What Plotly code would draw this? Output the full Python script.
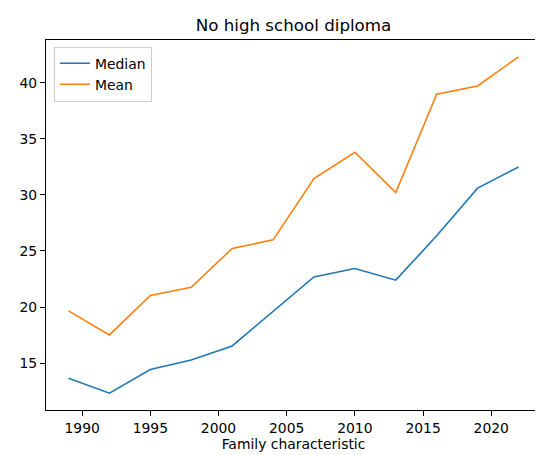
import plotly.graph_objects as go

years = [1989, 1992, 1995, 1998, 2001, 2004, 2007, 2010, 2013, 2016, 2019, 2022]
median = [13.66, 12.33, 14.44, 15.29, 16.54, 19.6, 22.69, 23.44, 22.40, 26.35, 30.6, 32.48]
mean = [19.66, 17.52, 21.03, 21.77, 25.22, 25.99, 31.46, 33.8, 30.21, 38.97, 39.7, 42.3]
x_ticks = [1990, 1995, 2000, 2005, 2010, 2015, 2020]
y_ticks = [15, 20, 25, 30, 35, 40]

fig = go.Figure()
fig.add_trace(go.Scatter(x=years, y=median, mode="lines", name="Median",
                         line=dict(color="#1f77b4", width=1.6)))
fig.add_trace(go.Scatter(x=years, y=mean, mode="lines", name="Mean",
                         line=dict(color="#ff7f0e", width=1.6)))

xspan = max(years) - min(years)
ymin = min(median + mean)
ymax = max(median + mean)
yspan = ymax - ymin

fig.update_layout(
    width=543, height=455,
    margin=dict(l=38, r=10, t=32, b=53, autoexpand=False),
    paper_bgcolor="white", plot_bgcolor="white",
    font=dict(family="DejaVu Sans", size=13.9, color="black"),
    title=dict(text="No high school diploma", x=0.5, xanchor="center",
               xref="paper", y=1 - 17 / 455, yanchor="middle", font=dict(size=16.7)),
    showlegend=True,
    legend=dict(x=0.016, y=0.982, xanchor="left", yanchor="top",
                bgcolor="rgba(255,255,255,0.8)", bordercolor="#cccccc", borderwidth=1,
                font=dict(size=13.9), tracegroupgap=0, itemwidth=30),
    xaxis=dict(range=[min(years) - 0.05 * xspan, max(years) + 0.05 * xspan],
               tickvals=x_ticks, ticks="outside", ticklen=5, tickcolor="black",
               showline=True, linecolor="black", linewidth=1, mirror=True,
               showgrid=False, zeroline=False, automargin=False,
               title=dict(text="Family characteristic", standoff=2, font=dict(size=13.9))),
    yaxis=dict(range=[ymin - 0.05 * yspan, ymax + 0.05 * yspan],
               tickvals=y_ticks, ticks="outside", ticklen=5, tickcolor="black",
               showline=True, linecolor="black", linewidth=1, mirror=True,
               showgrid=False, zeroline=False, automargin=False),
)

fig.write_html("out.html")
